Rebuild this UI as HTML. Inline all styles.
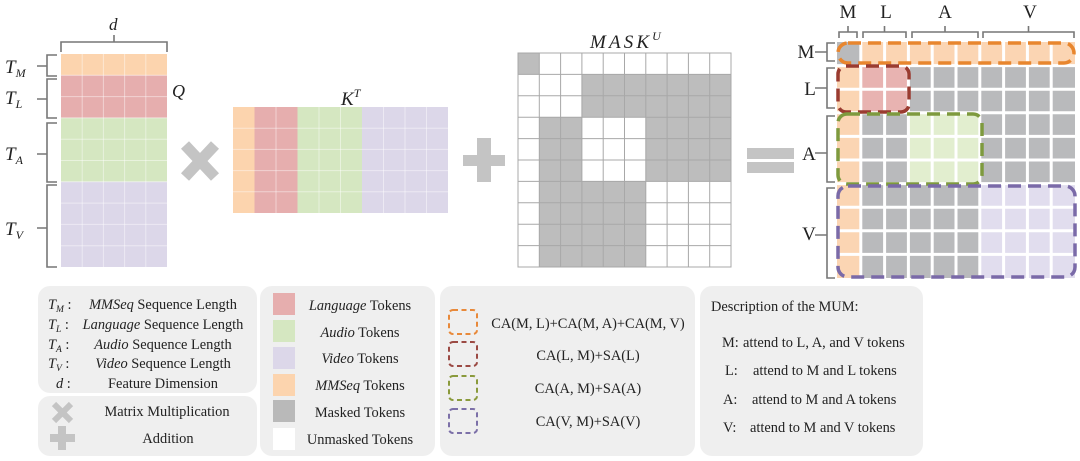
<!DOCTYPE html>
<html><head><meta charset="utf-8"><style>
html,body{margin:0;padding:0;background:#fff;}
svg{display:block;}
text{font-family:"Liberation Serif","DejaVu Serif",serif;fill:#222;}
</style></head><body>
<svg width="1080" height="461" viewBox="0 0 1080 461" xmlns="http://www.w3.org/2000/svg">
<!-- ========== Q matrix ========== -->
<rect x="61" y="54" width="106" height="21.3" fill="#fcd4ae"/>
<rect x="61" y="75.3" width="106" height="42.6" fill="#e6aeae"/>
<rect x="61" y="117.9" width="106" height="63.9" fill="#d5e7c1"/>
<rect x="61" y="181.8" width="106" height="85.2" fill="#dcd7e9"/>
<g stroke="#ffffff" stroke-opacity="0.45" stroke-width="1">
<line x1="82.2" y1="54" x2="82.2" y2="267"/><line x1="103.4" y1="54" x2="103.4" y2="267"/>
<line x1="124.6" y1="54" x2="124.6" y2="267"/><line x1="145.8" y1="54" x2="145.8" y2="267"/>
<line x1="61" y1="75.3" x2="167" y2="75.3"/><line x1="61" y1="96.6" x2="167" y2="96.6"/>
<line x1="61" y1="117.9" x2="167" y2="117.9"/><line x1="61" y1="139.2" x2="167" y2="139.2"/>
<line x1="61" y1="160.5" x2="167" y2="160.5"/><line x1="61" y1="181.8" x2="167" y2="181.8"/>
<line x1="61" y1="203.1" x2="167" y2="203.1"/><line x1="61" y1="224.4" x2="167" y2="224.4"/>
<line x1="61" y1="245.7" x2="167" y2="245.7"/>
</g>
<g stroke="#777" stroke-width="1.6" fill="none">
<path d="M61 52 V42 H167 V52 M114 42 V35"/>
<path d="M57 55 H47 V76 H57 M47 66 H37"/>
<path d="M57 79 H47 V118 H57 M47 99 H37"/>
<path d="M57 123 H47 V182 H57 M47 154 H37"/>
<path d="M57 185 H47 V267 H57 M47 228 H37"/>
</g>
<text x="109" y="30" font-size="17" font-style="italic">d</text>
<text x="172" y="97" font-size="18" font-style="italic">Q</text>
<text x="5" y="73" font-size="19" font-style="italic">T<tspan font-size="12" dy="4">M</tspan></text>
<text x="5" y="104" font-size="19" font-style="italic">T<tspan font-size="12" dy="4">L</tspan></text>
<text x="5" y="160" font-size="19" font-style="italic">T<tspan font-size="12" dy="4">A</tspan></text>
<text x="5" y="235" font-size="19" font-style="italic">T<tspan font-size="12" dy="4">V</tspan></text>
<g stroke="#c4c4c4" stroke-width="11" stroke-linecap="butt">
<line x1="185" y1="145" x2="215" y2="177"/><line x1="215" y1="145" x2="185" y2="177"/>
</g>
<!-- ========== K^T ========== -->
<rect x="233" y="107" width="21.5" height="106" fill="#fcd4ae"/>
<rect x="254.5" y="107" width="43" height="106" fill="#e6aeae"/>
<rect x="297.5" y="107" width="64.5" height="106" fill="#d5e7c1"/>
<rect x="362" y="107" width="86" height="106" fill="#dcd7e9"/>
<g stroke="#ffffff" stroke-opacity="0.45" stroke-width="1">
<line x1="276" y1="107" x2="276" y2="213"/><line x1="319" y1="107" x2="319" y2="213"/>
<line x1="340.5" y1="107" x2="340.5" y2="213"/><line x1="383.5" y1="107" x2="383.5" y2="213"/>
<line x1="405" y1="107" x2="405" y2="213"/><line x1="426.5" y1="107" x2="426.5" y2="213"/>
<line x1="233" y1="128.2" x2="448" y2="128.2"/><line x1="233" y1="149.4" x2="448" y2="149.4"/>
<line x1="233" y1="170.6" x2="448" y2="170.6"/><line x1="233" y1="191.8" x2="448" y2="191.8"/>
</g>
<text x="341" y="105" font-size="19" font-style="italic">K<tspan font-size="12" dy="-8">T</tspan></text>
<rect x="477" y="138" width="14" height="44" fill="#c4c4c4"/>
<rect x="463" y="155" width="42" height="11" fill="#c4c4c4"/>
<!-- ========== MASK ========== -->
<rect x="518" y="53" width="213" height="214" fill="#fff"/>
<g fill="#bdbdbd">
<rect x="518" y="53" width="21.3" height="21.4"/>
<rect x="581.9" y="74.4" width="149.1" height="42.8"/>
<rect x="539.3" y="117.2" width="42.6" height="64.2"/>
<rect x="645.8" y="117.2" width="85.2" height="64.2"/>
<rect x="539.3" y="181.4" width="106.5" height="85.6"/>
</g>
<g stroke="#a8a8a8" stroke-width="1" fill="none">
<rect x="518" y="53" width="213" height="214"/>
<line x1="539.3" y1="53" x2="539.3" y2="267"/><line x1="560.6" y1="53" x2="560.6" y2="267"/>
<line x1="581.9" y1="53" x2="581.9" y2="267"/><line x1="603.2" y1="53" x2="603.2" y2="267"/>
<line x1="624.5" y1="53" x2="624.5" y2="267"/><line x1="645.8" y1="53" x2="645.8" y2="267"/>
<line x1="667.1" y1="53" x2="667.1" y2="267"/><line x1="688.4" y1="53" x2="688.4" y2="267"/>
<line x1="709.7" y1="53" x2="709.7" y2="267"/>
<line x1="518" y1="74.4" x2="731" y2="74.4"/><line x1="518" y1="95.8" x2="731" y2="95.8"/>
<line x1="518" y1="117.2" x2="731" y2="117.2"/><line x1="518" y1="138.6" x2="731" y2="138.6"/>
<line x1="518" y1="160" x2="731" y2="160"/><line x1="518" y1="181.4" x2="731" y2="181.4"/>
<line x1="518" y1="202.8" x2="731" y2="202.8"/><line x1="518" y1="224.2" x2="731" y2="224.2"/>
<line x1="518" y1="245.6" x2="731" y2="245.6"/>
</g>
<text x="590" y="48" font-size="19" font-style="italic"><tspan textLength="59" lengthAdjust="spacing">MASK</tspan><tspan font-size="12" dy="-8">U</tspan></text>
<rect x="747" y="148" width="47" height="11" fill="#c4c4c4"/>
<rect x="747" y="162" width="47" height="11" fill="#c4c4c4"/>
<!-- ========== Result matrix ========== -->
<rect x="837" y="42" width="238" height="236" fill="#b9babc"/>
<rect x="860.8" y="42" width="214.2" height="23.6" fill="#fbd5b3"/>
<rect x="837" y="65.6" width="23.8" height="212.4" fill="#fbd5b3"/>
<rect x="860.8" y="65.6" width="47.6" height="47.2" fill="#e8b3b1"/>
<rect x="908.4" y="112.8" width="71.4" height="70.8" fill="#e2eecf"/>
<rect x="979.8" y="183.6" width="95.2" height="94.4" fill="#e1ddee"/>
<g stroke="#fff" stroke-width="3">
<line x1="860.8" y1="42" x2="860.8" y2="278"/><line x1="884.6" y1="42" x2="884.6" y2="278"/>
<line x1="908.4" y1="42" x2="908.4" y2="278"/><line x1="932.2" y1="42" x2="932.2" y2="278"/>
<line x1="956" y1="42" x2="956" y2="278"/><line x1="979.8" y1="42" x2="979.8" y2="278"/>
<line x1="1003.6" y1="42" x2="1003.6" y2="278"/><line x1="1027.4" y1="42" x2="1027.4" y2="278"/>
<line x1="1051.2" y1="42" x2="1051.2" y2="278"/>
<line x1="837" y1="65.6" x2="1075" y2="65.6"/><line x1="837" y1="89.2" x2="1075" y2="89.2"/>
<line x1="837" y1="112.8" x2="1075" y2="112.8"/><line x1="837" y1="136.4" x2="1075" y2="136.4"/>
<line x1="837" y1="160" x2="1075" y2="160"/><line x1="837" y1="183.6" x2="1075" y2="183.6"/>
<line x1="837" y1="207.2" x2="1075" y2="207.2"/><line x1="837" y1="230.8" x2="1075" y2="230.8"/>
<line x1="837" y1="254.4" x2="1075" y2="254.4"/>
</g>
<g fill="none" stroke-width="3.5" stroke-dasharray="13 7">
<rect x="838" y="43" width="236" height="20" rx="10" stroke="#e8862e"/>
<rect x="838" y="66" width="71" height="46" rx="8" stroke="#9a3b30"/>
<rect x="838" y="114" width="144" height="70" rx="9" stroke="#7e9a3e"/>
<rect x="838" y="186" width="237" height="91" rx="10" stroke="#7a6aa8"/>
</g>
<g stroke="#777" stroke-width="1.6" fill="none">
<path d="M839 38 V32 H857 V38 M848 32 V26"/>
<path d="M863 38 V32 H906 V38 M884.5 32 V26"/>
<path d="M912 38 V32 H978 V38 M945 32 V26"/>
<path d="M983 38 V32 H1074 V38 M1028.5 32 V26"/>
<path d="M835 43 H827 V61 H835 M827 52 H815"/>
<path d="M835 68 H827 V108 H835 M827 88 H815"/>
<path d="M835 116 H827 V182 H835 M827 153 H815"/>
<path d="M835 188 H827 V278 H835 M827 235 H815"/>
</g>
<g font-size="19" text-anchor="middle">
<text x="848" y="18">M</text><text x="886" y="18">L</text>
<text x="945" y="18">A</text><text x="1030" y="18">V</text>
<text x="806" y="58">M</text><text x="810" y="95">L</text>
<text x="809" y="160">A</text><text x="809" y="240">V</text>
</g>
<!-- ========== Legend ========== -->
<g fill="#efefef">
<rect x="38" y="286" width="219" height="107" rx="12"/>
<rect x="38" y="396" width="219" height="60" rx="12"/>
<rect x="260" y="286" width="175" height="170" rx="12"/>
<rect x="440" y="286" width="255" height="170" rx="12"/>
<rect x="700" y="286" width="223" height="170" rx="12"/>
</g>
<g font-size="14.4">
<text x="48" y="309" font-style="italic">T<tspan font-size="9.5" dy="3">M</tspan><tspan dy="-3" font-style="normal"> :</tspan></text>
<text x="48" y="329" font-style="italic">T<tspan font-size="9.5" dy="3">L</tspan><tspan dy="-3" font-style="normal"> :</tspan></text>
<text x="48" y="349" font-style="italic">T<tspan font-size="9.5" dy="3">A</tspan><tspan dy="-3" font-style="normal"> :</tspan></text>
<text x="48" y="368" font-style="italic">T<tspan font-size="9.5" dy="3">V</tspan><tspan dy="-3" font-style="normal"> :</tspan></text>
<text x="56" y="388" font-style="italic">d<tspan font-style="normal"> :</tspan></text>
<g text-anchor="middle">
<text x="163" y="309"><tspan font-style="italic">MMSeq</tspan> Sequence Length</text>
<text x="163" y="329"><tspan font-style="italic">Language</tspan> Sequence Length</text>
<text x="163" y="349"><tspan font-style="italic">Audio</tspan> Sequence Length</text>
<text x="163" y="368"><tspan font-style="italic">Video</tspan> Sequence Length</text>
<text x="163" y="388">Feature Dimension</text>
<text x="167" y="416">Matrix Multiplication</text>
<text x="168" y="443">Addition</text>
<text x="360" y="310"><tspan font-style="italic">Language</tspan> Tokens</text>
<text x="360" y="337"><tspan font-style="italic">Audio</tspan> Tokens</text>
<text x="360" y="363"><tspan font-style="italic">Video</tspan> Tokens</text>
<text x="360" y="390"><tspan font-style="italic">MMSeq</tspan> Tokens</text>
<text x="360" y="417">Masked Tokens</text>
<text x="360" y="444">Unmasked Tokens</text>
<text x="588" y="328">CA(M, L)+CA(M, A)+CA(M, V)</text>
<text x="588" y="360">CA(L, M)+SA(L)</text>
<text x="588" y="393">CA(A, M)+SA(A)</text>
<text x="588" y="426">CA(V, M)+SA(V)</text>
</g>
<text x="711" y="311">Description of the MUM:</text>
<text x="722" y="347">M:</text><text x="743" y="347">attend to L, A, and V tokens</text>
<text x="725" y="375">L:</text><text x="753" y="375">attend to M and L tokens</text>
<text x="723" y="404">A:</text><text x="752" y="404">attend to M and A tokens</text>
<text x="723" y="432">V:</text><text x="750" y="432">attend to M and  V tokens</text>
</g>
<g stroke="#c4c4c4" stroke-width="6">
<line x1="54" y1="404" x2="71" y2="421"/><line x1="71" y1="404" x2="54" y2="421"/>
</g>
<rect x="58" y="426" width="8" height="24" fill="#c4c4c4"/>
<rect x="50" y="434" width="25" height="8" fill="#c4c4c4"/>
<rect x="273" y="293" width="22" height="22" fill="#e6aeae"/>
<rect x="273" y="320" width="22" height="22" fill="#d5e7c1"/>
<rect x="273" y="347" width="22" height="22" fill="#dcd7e9"/>
<rect x="273" y="374" width="22" height="22" fill="#fcd4ae"/>
<rect x="273" y="400" width="22" height="22" fill="#b9b9b9"/>
<rect x="273" y="428" width="22" height="22" fill="#ffffff"/>
<g fill="none" stroke-width="2" stroke-dasharray="5 3.5">
<rect x="449" y="310" width="28" height="24" rx="4" stroke="#e8893a"/>
<rect x="449" y="342" width="28" height="24" rx="4" stroke="#9b4a44"/>
<rect x="449" y="376" width="28" height="24" rx="4" stroke="#8a9a3c"/>
<rect x="449" y="409" width="28" height="24" rx="4" stroke="#7c70a8"/>
</g>
</svg>
</body></html>
